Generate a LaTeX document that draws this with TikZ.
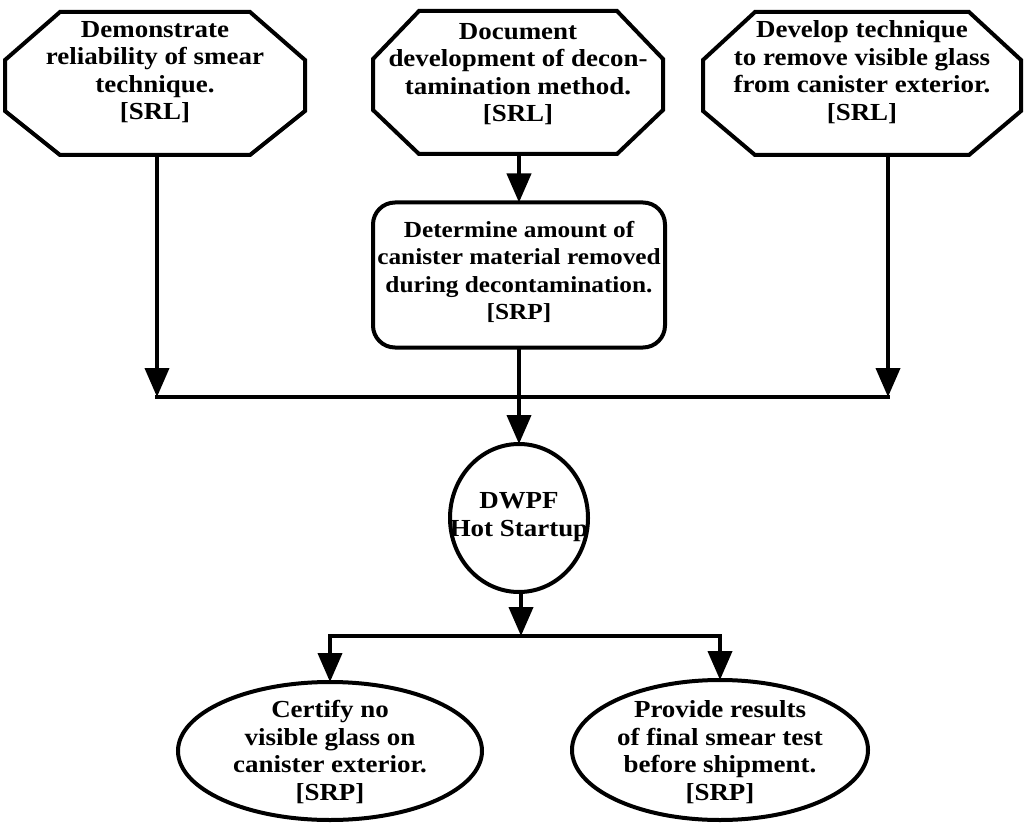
\documentclass[tikz,border=0pt]{standalone}
\usepackage{fontspec}
\setmainfont{Liberation Serif}[FakeStretch=1.1]
\usetikzlibrary{arrows.meta,shapes.geometric,calc}

% octagonal outline drawn around a blank rectangular node;
% #2 = horizontal size of the corner cuts
\newcommand\octframe[2]{%
  \draw[outline]
    ([xshift=#2]#1.north west) -- ([xshift=-#2]#1.north east)
    -- ([yshift=-48pt]#1.north east) -- ([yshift=44pt]#1.south east)
    -- ([xshift=-#2]#1.south east) -- ([xshift=#2]#1.south west)
    -- ([yshift=44pt]#1.south west) -- ([yshift=-48pt]#1.north west) -- cycle;}

\begin{document}
\begin{tikzpicture}[x=1pt,y=-1pt,
  every node/.style={inner sep=0pt, outer sep=0pt},
  label text/.style={font=\bfseries\fontsize{24.5}{27.5}\selectfont, align=center},
  small text/.style={font=\bfseries\fontsize{23}{27.5}\selectfont, align=center},
  outline/.style={line width=4pt, line join=miter},
  octbox/.style={rectangle, minimum height=143pt},
  roundbox/.style={rectangle, rounded corners=22pt, draw, line width=4pt,
                   minimum width=292pt, minimum height=145pt},
  ovalbox/.style={ellipse, draw, line width=4pt},
  edge/.style={line width=4pt, line cap=rect},
  flow/.style={line width=4pt, -{Triangle[length=29pt,width=24pt]}}
]
\useasboundingbox (0,0) rectangle (1025,826);

% top row: three octagonal tasks
\node[octbox, minimum width=300pt] (o1) at (155,83.5) {};
\node[octbox, minimum width=290pt] (o2) at (518,82.5) {};
\node[octbox, minimum width=318pt] (o3) at (862,83.5) {};
\octframe{o1}{55pt}
\octframe{o2}{46pt}
\octframe{o3}{52pt}
\node[label text] (t1) at (155,72) {Demonstrate\\reliability of smear\\technique.\\{[}SRL{]}};
\node[label text] (t2) at (518,74) {Document\\development of decon-\\tamination method.\\{[}SRL{]}};
\node[label text] (t3) at (862,72) {Develop technique\\to remove visible glass\\from canister exterior.\\{[}SRL{]}};

% middle task
\node[roundbox] (rr) at (519,275) {};
\node[small text] (rrt) at (519,272) {Determine amount of\\canister material removed\\during decontamination.\\{[}SRP{]}};

% milestone
\node[ovalbox, minimum width=138pt, minimum height=148pt] (hs) at (519,518) {};
\node[label text] (hst) at (519,517) {DWPF\\Hot Startup};

% bottom row
\node[ovalbox, minimum width=304pt, minimum height=138pt] (e1) at (330,751) {};
\node[ovalbox, minimum width=296pt, minimum height=140pt] (e2) at (720,750) {};
\node[label text] (e1t) at (330,752) {Certify no\\visible glass on\\canister exterior.\\{[}SRP{]}};
\node[label text] (e2t) at (720,752) {Provide results\\of final smear test\\before shipment.\\{[}SRP{]}};

% junction points
\coordinate (j1) at (157,397);
\coordinate (j3) at (888,397);
\coordinate (k1) at (330,636);
\coordinate (k2) at (521,636);
\coordinate (k3) at (720,636);

% upper merge
\draw[edge] (j1) -- (j3);
\draw[flow] (o1.south -| j1) -- (j1);
\draw[flow] (o3.south -| j3) -- (j3);
\draw[flow] (o2.south -| rr.north) -- (rr.north);
\draw[flow] (rr.south) -- (hs.north);

% lower split
\draw[flow] (hs.south -| k2) -- (k2);
\draw[edge] (k1) -- (k3);
\draw[flow] (k1) -- (e1.north);
\draw[flow] (k3) -- (e2.north);
\end{tikzpicture}
\end{document}
